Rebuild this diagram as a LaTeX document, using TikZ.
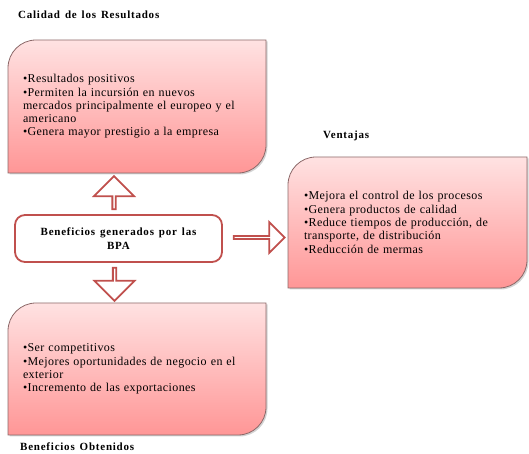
\documentclass[tikz,border=0pt]{standalone}
\usepackage{fontspec}
\setmainfont{Liberation Serif}
\newfontfamily\anchafont[LetterSpace=7, WordSpace=1.4]{Liberation Serif}
\newfontfamily\cuerpofont[LetterSpace=3.5, WordSpace=1.4]{Liberation Serif}
\usetikzlibrary{positioning,shapes.arrows,shadows,backgrounds}
\definecolor{rojoborde}{RGB}{192,80,77}
\definecolor{rosaarriba}{RGB}{255,226,226}
\definecolor{rosaabajo}{RGB}{255,150,150}
\definecolor{grisborde}{RGB}{140,105,105}
\tikzset{
    caja/.style={inner sep=0pt, outer sep=0pt, align=left, font=\cuerpofont\fontsize{12}{13.3}\selectfont},
    panel/.style={draw=grisborde, line width=0.8pt, top color=rosaarriba, bottom color=rosaabajo,
        drop shadow={shadow xshift=1.5pt, shadow yshift=-1.5pt, opacity=0.35}},
    titulo/.style={inner sep=0pt, font=\anchafont\fontsize{11}{13}\selectfont\bfseries},
    flecha/.style={single arrow, draw=rojoborde, fill=white, line width=1.8pt, inner sep=0pt,
        single arrow head extend=10pt, single arrow tip angle=90},
}
\begin{document}
\begin{tikzpicture}[x=1pt, y=1pt]
    \useasboundingbox (0,0) rectangle (529,454);
    % cajas con texto
    \node[caja, minimum width=258pt, minimum height=133pt, text width=228pt] (calidad) at (137,347.5)
        {•Resultados positivos\\•Permiten la incursión  en nuevos\\mercados principalmente  el europeo y el\\americano\\•Genera mayor prestigio  a la empresa};
    \node[caja, minimum width=239pt, minimum height=131pt, text width=207pt] (ventajas) at (407.5,231.5)
        {•Mejora el control de los procesos\\•Genera productos de calidad\\•Reduce tiempos de producción, de\\transporte, de distribución\\•Reducción de mermas};
    \node[caja, minimum width=258pt, minimum height=132pt, text width=228pt] (obtenidos) at (137,85)
        {•Ser competitivos\\•Mejores oportunidades de negocio en el\\exterior\\•Incremento de las exportaciones};
    \node[draw=rojoborde, line width=1.8pt, rounded corners=10pt, fill=white, minimum width=207pt, minimum height=47pt,
        align=center, font=\anchafont\fontsize{11}{14}\selectfont\bfseries] (bpa) at (118.5,215.5)
        {Beneficios generados por las\\BPA};
    % fondos de las cajas
    \begin{scope}[on background layer]
        \foreach \c in {calidad,ventajas,obtenidos}
            {
                \path[panel] (\c.south west) -- ([yshift=-28pt]\c.north west) arc[start angle=180, end angle=90, radius=28pt]
                    -- (\c.north east) -- ([yshift=28pt]\c.south east) arc[start angle=0, end angle=-90, radius=28pt] -- cycle;
            }
    \end{scope}
    % flechas
    \node[flecha, shape border rotate=90, minimum height=33pt, minimum width=40pt] (arriba) at (114,260.5) {};
    \node[flecha, shape border rotate=270, minimum height=33pt, minimum width=40pt] (abajo) at (114.5,170.5) {};
    \node[flecha, minimum height=51pt, minimum width=31pt, single arrow head extend=9pt] (derecha) at (258.5,216.5) {};
    % titulos
    \node[titulo, anchor=west] (t1) at ([xshift=10pt, yshift=25pt]calidad.north west) {Calidad de los Resultados};
    \node[titulo, anchor=west] (t2) at ([xshift=35pt, yshift=21pt]ventajas.north west) {Ventajas};
    \node[titulo, anchor=west] (t3) at ([xshift=12pt, yshift=-12pt]obtenidos.south west) {Beneficios Obtenidos};
\end{tikzpicture}
\end{document}
